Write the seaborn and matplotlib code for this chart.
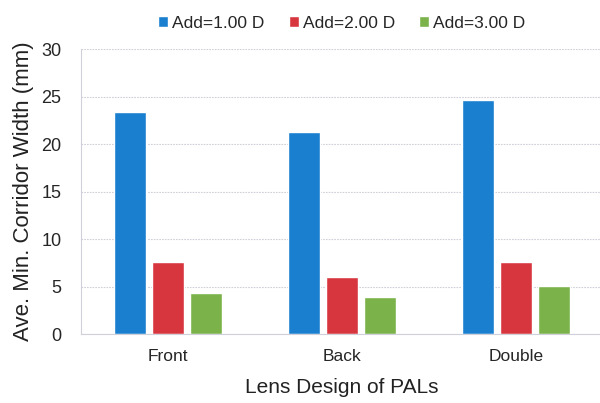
import pandas as pd
import seaborn as sns
import matplotlib.pyplot as plt

designs = ["Front", "Back", "Double"]
adds = ["Add=1.00 D", "Add=2.00 D", "Add=3.00 D"]
width_add1 = [23.4, 21.3, 24.6]
width_add2 = [7.55, 6.0, 7.6]
width_add3 = [4.3, 3.95, 5.1]
colors = ["#1a7fcf", "#d8363f", "#7bb34a"]

rows = []
for add, vals in zip(adds, [width_add1, width_add2, width_add3]):
    for d, v in zip(designs, vals):
        rows.append({"design": d, "add": add, "width": v})
df = pd.DataFrame(rows)

sns.set_theme(style="white")
plt.rcParams['font.family'] = ['Liberation Sans', 'DejaVu Sans']

fig = plt.figure(figsize=(6.0, 4.03), dpi=100)
ax = fig.add_axes([0.135, 0.171, 0.87, 0.707])
sns.barplot(data=df, x="design", y="width", hue="add", palette=colors,
            width=0.655, gap=0.18, saturation=1, ax=ax, legend=True)

ax.set_ylim(0, 30)
ax.set_xlim(-0.5, 2.5)
ax.set_yticks(range(0, 31, 5))
ax.yaxis.grid(True, color="#d0d0da", linestyle=(0, (1.5, 1)), linewidth=0.8)
ax.set_axisbelow(True)
for side in ["top", "right"]:
    ax.spines[side].set_visible(False)
for side in ["left", "bottom"]:
    ax.spines[side].set_color("#d0d0da")
    ax.spines[side].set_linestyle((0, (1.5, 1)))
    ax.spines[side].set_linewidth(0.8)
ax.tick_params(axis="y", labelsize=13, pad=14, length=0)
ax.tick_params(axis="x", labelsize=12.5, pad=11, length=0)
ax.set_xlabel("Lens Design of PALs", fontsize=15, labelpad=10, color="#222222")
ax.set_ylabel("Ave. Min. Corridor Width (mm)", fontsize=16, labelpad=5, color="#222222")

ax.legend(loc="lower center", bbox_to_anchor=(0.5, 1.04), ncol=3, frameon=False,
          fontsize=12.5, handlelength=0.55, handleheight=0.55, handletextpad=0.25,
          columnspacing=1.4, borderaxespad=0)

fig.savefig("out.png", dpi=100)
